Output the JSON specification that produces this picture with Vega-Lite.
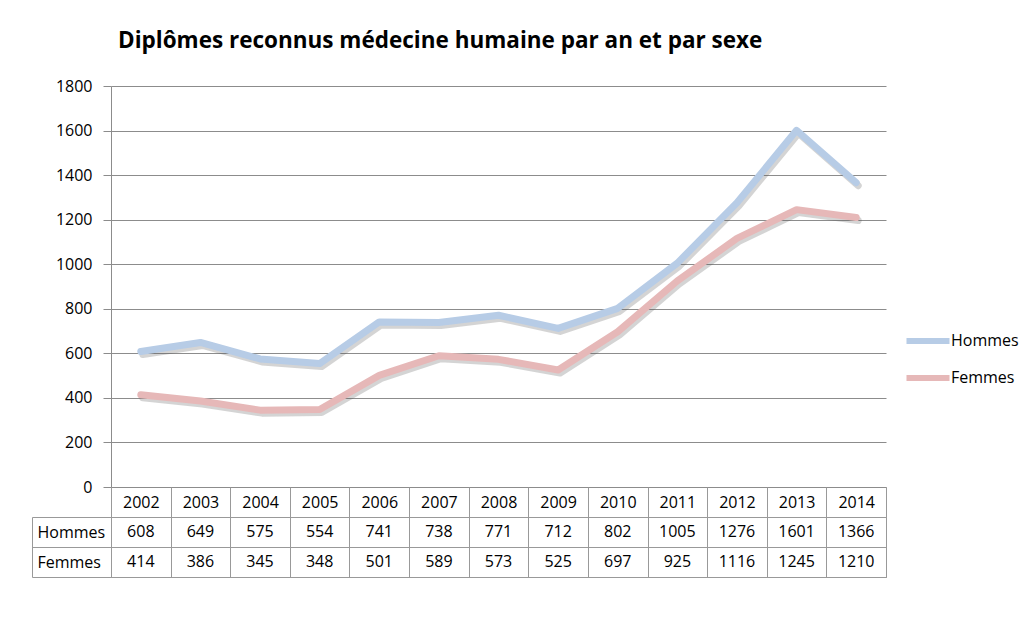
{
  "$schema": "https://vega.github.io/schema/vega-lite/v6.json",
  "padding": {"left": 31, "top": 29, "right": 5, "bottom": 5},
  "background": "white",
  "data": {"values": [
    {"year": "2002", "series": "Hommes", "value": 608}, {"year": "2002", "series": "Femmes", "value": 414},
    {"year": "2003", "series": "Hommes", "value": 649}, {"year": "2003", "series": "Femmes", "value": 386},
    {"year": "2004", "series": "Hommes", "value": 575}, {"year": "2004", "series": "Femmes", "value": 345},
    {"year": "2005", "series": "Hommes", "value": 554}, {"year": "2005", "series": "Femmes", "value": 348},
    {"year": "2006", "series": "Hommes", "value": 741}, {"year": "2006", "series": "Femmes", "value": 501},
    {"year": "2007", "series": "Hommes", "value": 738}, {"year": "2007", "series": "Femmes", "value": 589},
    {"year": "2008", "series": "Hommes", "value": 771}, {"year": "2008", "series": "Femmes", "value": 573},
    {"year": "2009", "series": "Hommes", "value": 712}, {"year": "2009", "series": "Femmes", "value": 525},
    {"year": "2010", "series": "Hommes", "value": 802}, {"year": "2010", "series": "Femmes", "value": 697},
    {"year": "2011", "series": "Hommes", "value": 1005}, {"year": "2011", "series": "Femmes", "value": 925},
    {"year": "2012", "series": "Hommes", "value": 1276}, {"year": "2012", "series": "Femmes", "value": 1116},
    {"year": "2013", "series": "Hommes", "value": 1601}, {"year": "2013", "series": "Femmes", "value": 1245},
    {"year": "2014", "series": "Hommes", "value": 1366}, {"year": "2014", "series": "Femmes", "value": 1210}
  ]},
  "spacing": 30,
  "bounds": "flush",
  "config": {
    "font": "Open Sans",
    "axis": {"labelFont": "Open Sans", "labelFontSize": 16, "labelColor": "black", "titleFont": "Open Sans"},
    "legend": {"labelFont": "Open Sans", "labelFontSize": 16, "labelColor": "black"}
  },
  "vconcat": [
    {
      "width": 775,
      "height": 401,
      "view": {"stroke": null},
      "title": {"text": "Diplômes reconnus médecine humaine par an et par sexe", "anchor": "start", "frame": "group", "dx": 7, "font": "Open Sans", "fontSize": 22.5, "fontWeight": "bold", "color": "black", "offset": 26},
      "layer": [
        {
          "mark": {"type": "line", "strokeWidth": 7, "strokeCap": "round", "strokeJoin": "round", "color": "#555555", "opacity": 0.25, "xOffset": 2, "yOffset": 3},
          "encoding": {
            "x": {"field": "year", "type": "nominal"},
            "y": {"field": "value", "type": "quantitative"},
            "detail": {"field": "series"}
          }
        },
        {
          "mark": {"type": "line", "strokeWidth": 7, "strokeCap": "round", "strokeJoin": "round"},
          "encoding": {
            "x": {"field": "year", "type": "nominal", "scale": {"paddingInner": 0, "paddingOuter": 0},
              "axis": {"title": null, "domain": true, "domainColor": "#8c8c8c", "ticks": false, "labelPadding": 15, "labelAlign": "center", "labelBaseline": "middle", "labelAngle": 0, "grid": false}},
            "y": {"field": "value", "type": "quantitative", "scale": {"domain": [0, 1800], "nice": false},
              "axis": {"title": null, "format": "d", "values": [0, 200, 400, 600, 800, 1000, 1200, 1400, 1600, 1800], "grid": true, "gridColor": "#8c8c8c", "domainColor": "#8c8c8c", "tickColor": "#8c8c8c", "tickSize": 8, "labelPadding": 11}},
            "color": {"field": "series", "type": "nominal", "sort": ["Hommes", "Femmes"],
              "scale": {"domain": ["Hommes", "Femmes"], "range": ["#B7CCE6", "#E6B8B8"]},
              "legend": {"title": null, "orient": "none", "legendX": 792, "legendY": 230, "symbolType": "stroke", "symbolSize": 1850, "symbolStrokeWidth": 6, "rowPadding": -16, "labelOffset": -2}}
          }
        }
      ]
    },
    {
      "width": 775,
      "height": 60,
      "view": {"stroke": "#999999", "strokeWidth": 1},
      "mark": {"type": "text", "font": "Open Sans", "fontSize": 16, "color": "black", "baseline": "middle"},
      "encoding": {
        "x": {"field": "year", "type": "nominal", "scale": {"paddingInner": 0, "paddingOuter": 0},
          "axis": {"title": null, "orient": "top", "labels": false, "ticks": true, "tickBand": "extent", "tickSize": 30, "tickColor": "#999999", "domain": false, "grid": true, "gridColor": "#999999"}},
        "y": {"field": "series", "type": "nominal", "sort": ["Hommes", "Femmes"], "scale": {"domain": ["Hommes", "Femmes"], "paddingInner": 0, "paddingOuter": 0},
          "axis": {"title": null, "orient": "left", "offset": 79, "domain": true, "domainColor": "#999999", "ticks": true, "tickBand": "extent", "tickSize": -79, "tickColor": "#999999", "grid": true, "gridColor": "#999999", "labelAlign": "left", "labelPadding": 74, "labelBaseline": "middle"}},
        "text": {"field": "value", "type": "quantitative"}
      }
    }
  ]
}
